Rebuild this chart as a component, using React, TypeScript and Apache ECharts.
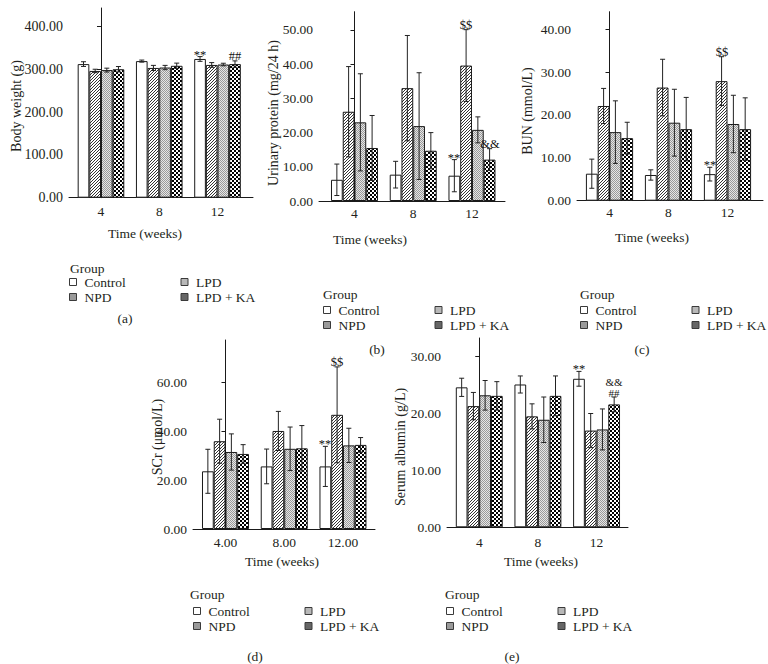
import React, { useEffect, useRef } from "react";
import * as echarts from "echarts";

const SERIF = '"Liberation Serif", "DejaVu Serif", serif';
const TXT = "#231f20";

const groups = ["Control", "NPD", "LPD", "LPD + KA"];
const weekLabels = ["4", "8", "12"];
const weekLabelsD = ["4.00", "8.00", "12.00"];

// (a) Body weight (g)
const bwControl = [312, 319, 324];
const bwNPD = [296, 303, 310];
const bwLPD = [298, 304, 311];
const bwKA = [300, 308, 312];
const bwControlErr = [5.5, 2.4, 5.5];
const bwNPDErr = [4, 6, 5.5];
const bwLPDErr = [4.5, 5, 3];
const bwKAErr = [6.3, 6.3, 7.5];
const bwMarksControl = ["", "", "**"];
const bwMarksNPD = ["", "", ""];
const bwMarksLPD = ["", "", ""];
const bwMarksKA = ["", "", "##"];
const bwTicks = [0, 100, 200, 300, 400];

// (b) Urinary protein (mg/24 h)
const upControl = [6.2, 7.7, 7.4];
const upNPD = [26.1, 33.0, 39.6];
const upLPD = [23.0, 21.9, 20.8];
const upKA = [15.5, 14.7, 12.1];
const upControlErr = [4.6, 3.9, 4.7];
const upNPDErr = [13.2, 15.4, 10.5];
const upLPDErr = [14.2, 15.6, 3.8];
const upKAErr = [9.5, 5.3, 3.2];
const upMarksControl = ["", "", "**"];
const upMarksNPD = ["", "", "$$"];
const upMarksLPD = ["", "", ""];
const upMarksKA = ["", "", "&&"];
const upTicks = [0, 10, 20, 30, 40, 50];

// (c) BUN (mmol/L)
const bunControl = [6.3, 6.0, 6.2];
const bunNPD = [22.1, 26.4, 27.9];
const bunLPD = [16.0, 18.2, 17.9];
const bunKA = [14.6, 16.7, 16.7];
const bunControlErr = [3.4, 1.2, 1.6];
const bunNPDErr = [4.1, 6.6, 5.7];
const bunLPDErr = [7.3, 7.8, 6.7];
const bunKAErr = [3.7, 7.4, 7.3];
const bunMarksControl = ["", "", "**"];
const bunMarksNPD = ["", "", "$$"];
const bunMarksLPD = ["", "", ""];
const bunMarksKA = ["", "", ""];
const bunTicks = [0, 10, 20, 30, 40];

// (d) SCr (μmol/L)
const scrControl = [23.6, 25.6, 25.6];
const scrNPD = [35.9, 40.1, 46.7];
const scrLPD = [31.5, 32.8, 34.2];
const scrKA = [30.7, 33.0, 34.4];
const scrControlErr = [9.0, 7.1, 8.2];
const scrNPDErr = [9.0, 8.0, 19.6];
const scrLPDErr = [7.4, 8.9, 7.0];
const scrKAErr = [3.8, 9.3, 3.0];
const scrMarksControl = ["", "", "**"];
const scrMarksNPD = ["", "", "$$"];
const scrMarksLPD = ["", "", ""];
const scrMarksKA = ["", "", ""];
const scrTicks = [0, 20, 40, 60];

// (e) Serum albumin (g/L)
const albControl = [24.6, 25.1, 26.1];
const albNPD = [21.3, 19.5, 17.0];
const albLPD = [23.2, 18.9, 17.2];
const albKA = [23.1, 23.1, 21.6];
const albControlErr = [1.6, 1.5, 1.3];
const albNPDErr = [2.4, 2.2, 3.0];
const albLPDErr = [2.6, 4.0, 3.6];
const albKAErr = [2.5, 3.5, 1.3];
const albMarksControl = ["", "", "**"];
const albMarksNPD = ["", "", ""];
const albMarksLPD = ["", "", ""];
const albMarksKA = ["", "", "&&\n##"];
const albTicks = [0, 10, 20, 30];

const panels = [
  {
    means: [bwControl, bwNPD, bwLPD, bwKA],
    errs: [bwControlErr, bwNPDErr, bwLPDErr, bwKAErr],
    marks: [bwMarksControl, bwMarksNPD, bwMarksLPD, bwMarksKA],
    ticks: bwTicks, yMax: 443, xLabels: weekLabels,
    grid: { left: 69, top: 8, width: 184, height: 189.7 },
    xMin: -0.549, xMax: 2.609, labelMargin: 7, tickFont: 14,
    yTitle: "Body weight (g)", yTitlePos: [16, 106],
    xTitlePos: [145, 233], groupPos: [70, 268.5], legendPos: [69, 275],
    label: "(a)", labelPos: [125, 318],
  },
  {
    means: [upControl, upNPD, upLPD, upKA],
    errs: [upControlErr, upNPDErr, upLPDErr, upKAErr],
    marks: [upMarksControl, upMarksNPD, upMarksLPD, upMarksKA],
    ticks: upTicks, yMax: 55.35, xLabels: weekLabels,
    grid: { left: 319, top: 11.7, width: 186, height: 189.3 },
    xMin: -0.604, xMax: 2.562, labelMargin: 5, tickFont: 13.5,
    yTitle: "Urinary protein (mg/24 h)", yTitlePos: [273, 113],
    xTitlePos: [370, 239], groupPos: [323, 294.5], legendPos: [323, 303],
    label: "(b)", labelPos: [377, 349],
  },
  {
    means: [bunControl, bunNPD, bunLPD, bunKA],
    errs: [bunControlErr, bunNPDErr, bunLPDErr, bunKAErr],
    marks: [bunMarksControl, bunMarksNPD, bunMarksLPD, bunMarksKA],
    ticks: bunTicks, yMax: 44.1, xLabels: weekLabels,
    grid: { left: 577, top: 11.7, width: 186, height: 189 },
    xMin: -0.551, xMax: 2.602, labelMargin: 5, tickFont: 13.5,
    yTitle: "BUN (mmol/L)", yTitlePos: [527, 111],
    xTitlePos: [652, 237], groupPos: [580, 294.5], legendPos: [580, 303],
    label: "(c)", labelPos: [642, 349],
  },
  {
    means: [scrControl, scrNPD, scrLPD, scrKA],
    errs: [scrControlErr, scrNPDErr, scrLPDErr, scrKAErr],
    marks: [scrMarksControl, scrMarksNPD, scrMarksLPD, scrMarksKA],
    ticks: scrTicks, yMax: 77.3, xLabels: weekLabelsD,
    grid: { left: 193, top: 340, width: 182, height: 189 },
    xMin: -0.553, xMax: 2.545, labelMargin: 6, tickFont: 13.5,
    yTitle: "SCr (μmol/L)", yTitlePos: [157, 437],
    xTitlePos: [282, 561], groupPos: [190, 594.5], legendPos: [193, 604],
    label: "(d)", labelPos: [255, 656],
  },
  {
    means: [albControl, albNPD, albLPD, albKA],
    errs: [albControlErr, albNPDErr, albLPDErr, albKAErr],
    marks: [albMarksControl, albMarksNPD, albMarksLPD, albMarksKA],
    ticks: albTicks, yMax: 33.27, xLabels: weekLabels,
    grid: { left: 447, top: 338, width: 181, height: 189.3 },
    xMin: -0.55, xMax: 2.536, labelMargin: 8, tickFont: 13.5,
    yTitle: "Serum albumin (g/L)", yTitlePos: [400, 447],
    xTitlePos: [541, 561], groupPos: [445, 594.5], legendPos: [446, 604],
    label: "(e)", labelPos: [512, 656],
  },
];

function makeCanvas(size: number, draw: (ctx: CanvasRenderingContext2D) => void) {
  const c = document.createElement("canvas");
  c.width = size;
  c.height = size;
  const ctx = c.getContext("2d") as CanvasRenderingContext2D;
  ctx.fillStyle = "#ffffff";
  ctx.fillRect(0, 0, size, size);
  draw(ctx);
  return { image: c, repeat: "repeat", imageWidth: size, imageHeight: size };
}

function buildPatterns() {
  const hatch = makeCanvas(3, (ctx) => {
    ctx.fillStyle = "#333333";
    ctx.fillRect(0, 2, 1, 1);
    ctx.fillRect(1, 1, 1, 1);
    ctx.fillRect(2, 0, 1, 1);
  });
  const stipple = makeCanvas(2, (ctx) => {
    ctx.fillStyle = "#e6e6e6";
    ctx.fillRect(0, 0, 2, 2);
    ctx.fillStyle = "#9a9a9a";
    ctx.fillRect(0, 0, 1, 1);
    ctx.fillRect(1, 1, 1, 1);
  });
  const checker = makeCanvas(4, (ctx) => {
    ctx.fillStyle = "#000000";
    ctx.fillRect(0, 0, 2, 2);
    ctx.fillRect(2, 2, 2, 2);
  });
  return ["#ffffff", hatch, stipple, checker];
}

const legendColors = ["#ffffff", "#9a9a9a", "#b8b8b8", "#666666"];

function textEl(text: string, x: number, y: number, opts: any = {}) {
  const align = opts.align || "center";
  return {
    type: "text",
    x,
    y,
    rotation: opts.rotation || 0,
    silent: true,
    style: {
      text,
      fill: TXT,
      fontFamily: SERIF,
      fontSize: opts.fontSize || 13.5,
      align,
      verticalAlign: "middle",
    },
  };
}

export default function App() {
  const ref = useRef<HTMLDivElement>(null);

  useEffect(() => {
    if (!ref.current) return;
    const chart = echarts.init(ref.current, undefined, { renderer: "svg" });
    const patterns = buildPatterns();

    const grid: any[] = [];
    const xAxis: any[] = [];
    const yAxis: any[] = [];
    const series: any[] = [];
    const legend: any[] = [];
    const graphic: any[] = [];

    panels.forEach((p, pi) => {
      grid.push({ ...p.grid, containLabel: false });
      xAxis.push({
        type: "value",
        gridIndex: pi,
        min: p.xMin,
        max: p.xMax,
        splitLine: { show: false },
        axisTick: { show: false },
        axisLine: { show: true, lineStyle: { color: "#1a1a1a", width: 1 } },
        axisLabel: {
          customValues: [0, 1, 2],
          margin: p.labelMargin,
          color: TXT,
          fontFamily: SERIF,
          fontSize: 13.5,
          formatter: (v: number) => {
            const i = Math.round(v);
            return Math.abs(v - i) < 1e-6 && i >= 0 && i < p.xLabels.length ? p.xLabels[i] : "";
          },
        },
      });
      const step = p.ticks[1] - p.ticks[0];
      const lastTick = p.ticks[p.ticks.length - 1];
      yAxis.push({
        type: "value",
        gridIndex: pi,
        min: 0,
        max: p.yMax,
        interval: step,
        splitLine: { show: false },
        axisLine: { show: true, lineStyle: { color: "#1a1a1a", width: 1 } },
        axisTick: { show: true, length: 4, customValues: p.ticks, lineStyle: { color: "#1a1a1a" } },
        axisLabel: {
          customValues: p.ticks,
          margin: 6,
          color: TXT,
          fontFamily: SERIF,
          fontSize: p.tickFont,
          formatter: (v: number) => {
            const r = Math.round(v / step) * step;
            return Math.abs(v - r) < 1e-6 && v <= lastTick + 1e-6 ? v.toFixed(2) : "";
          },
        },
      });

      const errData: number[][] = [];
      const errMarks: string[] = [];
      groups.forEach((g, gi) => {
        series.push({
          type: "bar",
          name: g,
          xAxisIndex: pi,
          yAxisIndex: pi,
          data: p.means[gi].map((v, i) => [i, v]),
          barWidth: "20%",
          barGap: "0%",
          silent: true,
          itemStyle: { color: patterns[gi], borderColor: "#1a1a1a", borderWidth: 1 },
          emphasis: { disabled: true },
          z: 2,
        });
        p.means[gi].forEach((v, i) => {
          errData.push([i - 0.3 + 0.2 * gi, v, p.errs[gi][i]]);
          errMarks.push(p.marks[gi][i]);
        });
      });

      series.push({
        type: "custom",
        name: "err" + pi,
        xAxisIndex: pi,
        yAxisIndex: pi,
        data: errData,
        encode: { x: 0, y: 1 },
        silent: true,
        itemStyle: { color: TXT },
        z: 5,
        renderItem: (params: any, api: any) => {
          const x = api.value(0);
          const y = api.value(1);
          const e = api.value(2);
          const top = api.coord([x, y + e]);
          const bot = api.coord([x, y - e]);
          const ls = { stroke: "#222", lineWidth: 1 };
          const children: any[] = [
            { type: "line", shape: { x1: top[0], y1: top[1], x2: bot[0], y2: bot[1] }, style: ls },
            { type: "line", shape: { x1: top[0] - 2.5, y1: top[1], x2: top[0] + 2.5, y2: top[1] }, style: ls },
            { type: "line", shape: { x1: bot[0] - 2.5, y1: bot[1], x2: bot[0] + 2.5, y2: bot[1] }, style: ls },
          ];
          const mark = errMarks[params.dataIndex];
          if (mark) {
            const lines = mark.split("\n");
            const baseDy = mark.charAt(0) === "*" ? 4 : 1;
            // draw stacked marks bottom-up as separate texts
            for (let k = lines.length - 1, step2 = 0; k >= 0; k--, step2++) {
              children.push({
                type: "text",
                x: Math.round(top[0]),
                y: Math.round(top[1] + baseDy - step2 * 11),
                style: {
                  text: lines[k],
                  fill: "#111111",
                  fontFamily: SERIF,
                  fontSize: lines.length > 1 ? 11 : 12.5,
                  lineHeight: lines.length > 1 ? 10.5 : 13,
                  align: "center",
                  verticalAlign: "bottom",
                },
              });
            }
          }
          return { type: "group", children };
        },
      });

      const [ll, lt] = p.legendPos;
      legend.push({
        id: "lg" + pi,
        orient: "vertical",
        left: ll,
        top: lt,
        height: 30,
        itemWidth: 7,
        itemHeight: 7,
        itemGap: 1,
        icon: "rect",
        align: "left",
        selectedMode: false,
        padding: 0,
        textStyle: {
          color: TXT,
          fontFamily: SERIF,
          fontSize: 13.5,
          lineHeight: 14,
          width: 95,
          padding: [0, 0, 0, 3],
        },
        data: groups.map((name, gi) => ({
          name,
          itemStyle: { color: legendColors[gi], borderColor: "#3a3a3a", borderWidth: 1 },
        })),
      });

      graphic.push(textEl(p.yTitle, p.yTitlePos[0], p.yTitlePos[1], { rotation: Math.PI / 2, fontSize: 14 }));
      graphic.push(textEl("Time (weeks)", p.xTitlePos[0], p.xTitlePos[1]));
      graphic.push(textEl("Group", p.groupPos[0], p.groupPos[1], { align: "left" }));
      graphic.push(textEl(p.label, p.labelPos[0], p.labelPos[1]));
    });

    chart.setOption({
      animation: false,
      backgroundColor: "#ffffff",
      grid,
      xAxis,
      yAxis,
      series,
      legend,
      graphic,
    });

    return () => {
      chart.dispose();
    };
  }, []);

  return (
    <div
      ref={ref}
      style={{ position: "absolute", left: 0, top: 0, width: 768, height: 664 }}
    />
  );
}
